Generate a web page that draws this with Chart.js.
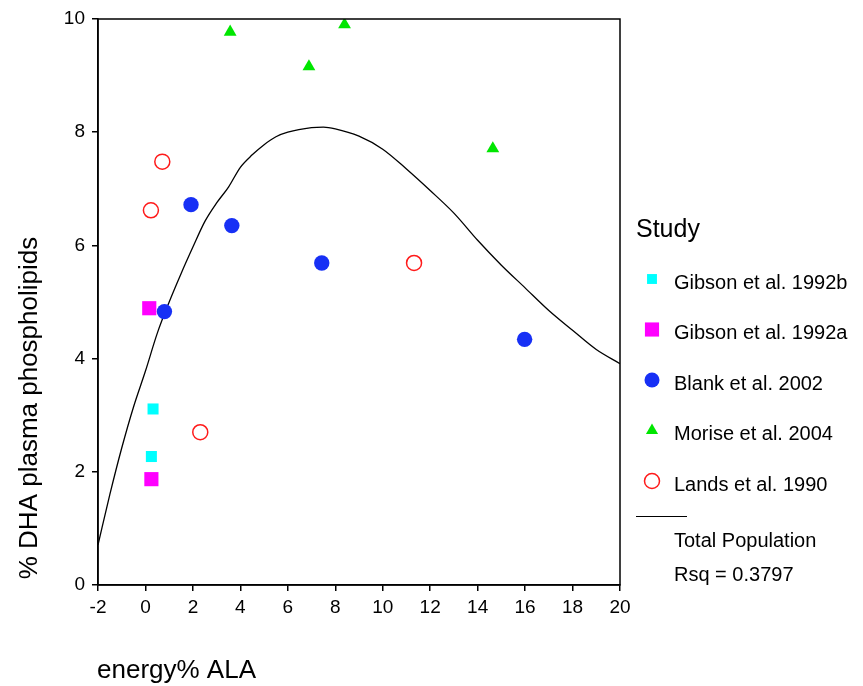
<!DOCTYPE html>
<html>
<head>
<meta charset="utf-8">
<script src="https://cdn.jsdelivr.net/npm/chart.js@4/dist/chart.umd.min.js"></script>
<style>
  body { margin: 0; background: #fff; }
  #wrap { width: 863px; height: 686px; }
</style>
</head>
<body>
<div id="wrap"><canvas id="chart" width="863" height="686"></canvas></div>
<script>
// energy% ALA (x) and % DHA plasma phospholipids (y) per study
var gibsonB_ala = [0.32, 0.25];
var gibsonB_dha = [3.11, 2.27];
var gibsonA_ala = [0.16, 0.25];
var gibsonA_dha = [4.89, 1.87];
var blank_ala = [1.92, 3.64, 7.43, 0.80, 15.98];
var blank_dha = [6.72, 6.35, 5.69, 4.83, 4.34];
var morise_ala = [3.57, 6.89, 8.39, 14.64];
var morise_dha = [9.77, 9.16, 9.90, 7.71];
var lands_ala = [0.71, 0.23, 11.32, 2.31];
var lands_dha = [7.48, 6.62, 5.69, 2.70];

// fitted curve, Total Population
var fit_ala = [-2, -1.5, -1, -0.5, 0, 0.5, 1, 1.5, 2, 2.5, 3, 3.5, 4, 4.5, 5, 5.5, 6, 7, 7.5, 8, 9, 10, 11, 12, 13, 14, 15, 16, 17, 18, 19, 20];
var fit_dha = [0.71, 1.6, 2.42, 3.15, 3.78, 4.45, 5.0, 5.5, 5.97, 6.42, 6.75, 7.03, 7.38, 7.6, 7.78, 7.92, 8.0, 8.08, 8.09, 8.06, 7.93, 7.7, 7.35, 6.97, 6.57, 6.09, 5.65, 5.25, 4.85, 4.5, 4.16, 3.91];

var xTicks = [-2, 0, 2, 4, 6, 8, 10, 12, 14, 16, 18, 20];
var yTicks = [0, 2, 4, 6, 8, 10];

var legendTitle = "Study";
var fitLabel = ["Total Population", "Rsq = 0.3797"];

function pts(xs, ys) {
    var out = [];
    for (var i = 0; i < xs.length; i++) out.push({x: xs[i], y: ys[i]});
    return out;
}

Chart.defaults.font.family = '"Liberation Sans", Arial, sans-serif';
Chart.defaults.color = '#000';

// frame round the plot area + titles + SPSS-like legend
var extras = {
    id: 'extras',
    afterDraw: function(chart) {
        var ctx = chart.ctx;
        var a = chart.chartArea;
        ctx.save();
        ctx.strokeStyle = '#000';
        ctx.lineWidth = 1.5;
        ctx.strokeRect(a.left, a.top, a.right - a.left, a.bottom - a.top);

        // axis titles
        ctx.fillStyle = '#000';
        ctx.font = '26px "Liberation Sans", Arial';
        ctx.textAlign = 'center';
        ctx.textBaseline = 'middle';
        ctx.save();
        ctx.translate(30, 408);
        ctx.rotate(-Math.PI / 2);
        ctx.fillText("% DHA plasma phospholipids", 0, 0);
        ctx.restore();
        ctx.font = '26px "Liberation Sans", Arial';
        ctx.textAlign = 'left';
        ctx.textBaseline = 'alphabetic';
        ctx.fillText("energy% ALA", 97, 678);

        // legend
        var lx = 636;
        ctx.font = '25px "Liberation Sans", Arial';
        ctx.fillText(legendTitle, lx, 237);
        ctx.font = '20px "Liberation Sans", Arial';
        ctx.textBaseline = 'middle';
        var y0 = 281, step = 50.5;
        var n = 0;
        chart.data.datasets.forEach(function(ds) {
            if (ds.type === 'line') return;
            var y = y0 + n * step;
            ctx.fillStyle = ds.backgroundColor;
            ctx.strokeStyle = ds.borderColor;
            ctx.lineWidth = ds.borderWidth;
            Chart.helpers.drawPoint(ctx, {
                pointStyle: ds.pointStyle,
                radius: ds.legendRadius,
                rotation: 0,
                borderWidth: ds.borderWidth
            }, 652, y - 2);
            ctx.fillStyle = '#000';
            ctx.fillText(ds.label, 674, y + 2);
            n++;
        });
        var ly = y0 + n * step - 17;
        ctx.strokeStyle = '#000';
        ctx.lineWidth = 1.2;
        ctx.beginPath();
        ctx.moveTo(lx, ly);
        ctx.lineTo(687, ly);
        ctx.stroke();
        ctx.fillStyle = '#000';
        ctx.fillText(fitLabel[0], 674, ly + 25);
        ctx.fillText(fitLabel[1], 674, ly + 59);
        ctx.restore();
    }
};

var ctx = document.getElementById('chart');
var chart = new Chart(ctx, {
    type: 'scatter',
    data: {
        datasets: [{
            label: "Gibson et al. 1992b",
            data: pts(gibsonB_ala, gibsonB_dha),
            pointStyle: 'rect',
            pointRadius: 7.8,
            legendRadius: 7,
            backgroundColor: '#00ffff',
            borderColor: '#00ffff',
            borderWidth: 0
        }, {
            label: "Gibson et al. 1992a",
            data: pts(gibsonA_ala, gibsonA_dha),
            pointStyle: 'rect',
            pointRadius: 10,
            legendRadius: 10,
            backgroundColor: '#ff00ff',
            borderColor: '#ff00ff',
            borderWidth: 0
        }, {
            label: "Blank et al. 2002",
            data: pts(blank_ala, blank_dha),
            pointStyle: 'circle',
            pointRadius: 7.7,
            legendRadius: 7.5,
            backgroundColor: '#1730f5',
            borderColor: '#1730f5',
            borderWidth: 0
        }, {
            label: "Morise et al. 2004",
            data: pts(morise_ala, morise_dha),
            pointStyle: 'triangle',
            pointRadius: 7.4,
            legendRadius: 7,
            backgroundColor: '#00e600',
            borderColor: '#00e600',
            borderWidth: 0
        }, {
            label: "Lands et al. 1990",
            data: pts(lands_ala, lands_dha),
            pointStyle: 'circle',
            pointRadius: 7.5,
            legendRadius: 7.5,
            backgroundColor: '#ffffff',
            borderColor: '#ff1a1a',
            borderWidth: 1.5
        }, {
            type: 'line',
            label: "Total Population",
            data: pts(fit_ala, fit_dha),
            showLine: true,
            borderColor: '#000',
            borderWidth: 1.3,
            pointRadius: 0,
            cubicInterpolationMode: 'monotone',
            fill: false
        }]
    },
    options: {
        responsive: false,
        animation: false,
        layout: { padding: { top: 19, right: 243, left: 0, bottom: 0 } },
        plugins: {
            legend: { display: false },
            tooltip: { enabled: false }
        },
        scales: {
            x: {
                type: 'linear',
                min: -2,
                max: 20,
                afterBuildTicks: function(s) { s.ticks = xTicks.map(function(v) { return {value: v}; }); },
                afterFit: function(s) { s.height = 101; },
                ticks: { font: { size: 19 }, padding: 5, maxRotation: 0 },
                grid: { drawOnChartArea: false, tickLength: 6, color: '#000', lineWidth: 1.5 },
                border: { color: '#000', width: 1.5 }
            },
            y: {
                type: 'linear',
                min: 0,
                max: 10,
                afterBuildTicks: function(s) { s.ticks = yTicks.map(function(v) { return {value: v}; }); },
                afterFit: function(s) { s.width = 98; },
                ticks: { font: { size: 19 }, padding: 7 },
                grid: { drawOnChartArea: false, tickLength: 6, color: '#000', lineWidth: 1.5 },
                border: { color: '#000', width: 1.5 }
            }
        }
    },
    plugins: [extras]
});
</script>
</body>
</html>
